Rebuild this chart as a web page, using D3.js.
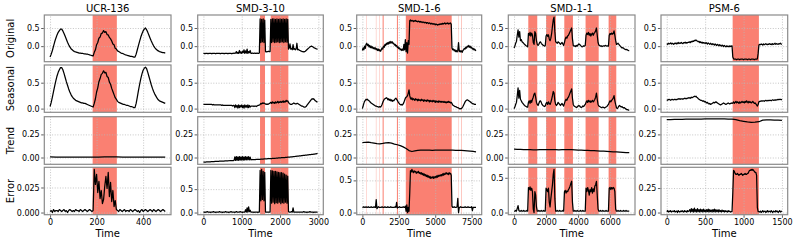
<!DOCTYPE html>
<html>
<head>
<meta charset="utf-8">
<script src="https://cdn.jsdelivr.net/npm/d3@7"></script>
<style>
body { margin: 0; background: #fff; }
svg { font-family: "DejaVu Sans", sans-serif; }
.grid line { stroke: #b8b8b8; stroke-width: 0.8; stroke-dasharray: 1,1.6; }
.grid path { display: none; }
.axis path { display: none; }
.axis line { stroke: #333; stroke-width: 0.8; }
.axis text { font-size: 8px; fill: #000; font-family: "DejaVu Sans", sans-serif; }
.label { font-size: 10px; fill: #000; }
</style>
</head>
<body>
<div id="chart"></div>
<script>
// Data
var datasets = ["UCR-136", "SMD-3-10", "SMD-1-6", "SMD-1-1", "PSM-6"],
	rowNames = ["Original", "Seasonal", "Trend", "Error"],
	seriesLength = [495, 2980, 7800, 7200, 1500],
	anomalyRanges = [
		[[183, 287]],
		[[1478, 1608], [1757, 2217]],
		[[280, 300], [930, 950], [1160, 1180], [1390, 1460], [2370, 2440], [2980, 6130], [6580, 6600], [6790, 6820]],
		[[890, 1450], [2000, 2620], [3140, 3680], [4470, 5290], [5910, 6390]],
		[[858, 1200]]
	],
	xTickValues = [[0, 200, 400], [0, 1000, 2000, 3000], [0, 2500, 5000, 7500], [0, 2000, 4000, 6000], [0, 500, 1000, 1500]],
	yTickValues = [[0, 0.5], [0, 0.5], [0, 0.25]],
	errorTickValues = [[0, 0.025], [0, 0.5], [0, 0.5], [0, 0.5], [0, 0.25]];

// UCR-136 (step 5)
var ucrOriginal = [-0.30,-0.22,-0.12,0.00,0.12,0.22,0.31,0.38,0.43,0.47,
	0.47,0.42,0.35,0.27,0.19,0.11,0.04,-0.02,-0.07,-0.10,
	-0.13,-0.15,-0.16,-0.17,-0.18,-0.19,-0.19,-0.20,-0.20,-0.21,
	-0.21,-0.22,-0.22,-0.23,-0.24,-0.25,-0.26,-0.27,-0.17,-0.10,
	0.04,0.10,0.22,0.25,0.35,0.36,0.43,0.38,0.40,0.32,
	0.31,0.24,0.20,0.14,0.06,0.04,-0.06,-0.08,-0.13,-0.15,
	-0.17,-0.19,-0.20,-0.21,-0.23,-0.24,-0.25,-0.26,-0.27,-0.28,
	-0.28,-0.29,-0.30,-0.30,-0.22,-0.10,0.02,0.14,0.25,0.34,
	0.42,0.47,0.50,0.45,0.38,0.30,0.22,0.14,0.07,0.01,
	-0.04,-0.08,-0.11,-0.13,-0.15,-0.16,-0.17,-0.18,-0.18,-0.19];
var ucrSeasonal = [0.04,0.12,0.22,0.33,0.44,0.54,0.63,0.70,0.75,0.79,
	0.79,0.75,0.68,0.60,0.52,0.45,0.38,0.32,0.27,0.23,
	0.20,0.18,0.16,0.15,0.14,0.13,0.12,0.11,0.11,0.10,
	0.10,0.09,0.08,0.07,0.06,0.05,0.04,0.03,0.10,0.19,
	0.32,0.40,0.52,0.58,0.66,0.68,0.73,0.69,0.70,0.62,
	0.60,0.51,0.47,0.39,0.33,0.27,0.21,0.18,0.14,0.12,
	0.11,0.10,0.09,0.08,0.08,0.07,0.06,0.06,0.05,0.04,
	0.04,0.03,0.02,0.02,0.10,0.22,0.35,0.47,0.58,0.67,
	0.74,0.78,0.80,0.77,0.70,0.62,0.54,0.46,0.39,0.33,
	0.28,0.24,0.20,0.17,0.15,0.14,0.13,0.12,0.11,0.10];
var ucrTrend = [0.006,0.005,0.005,0.004,0.004,0.003,0.003,0.004,0.005,0.007,
	0.008,0.007,0.005,0.004,0.004,0.003,0.003,0.004,0.004,0.003];
var ucrError = [0.001,0.002,0.000,0.003,0.001,0.002,0.002,0.001,0.003,0.002,
	0.001,0.002,0.003,0.001,0.002,0.000,0.002,0.003,0.002,0.001,
	0.002,0.001,0.003,0.002,0.002,0.001,0.003,0.002,0.001,0.002,
	0.003,0.002,0.001,0.002,0.003,0.002,0.001,0.002,
	0.043,0.028,0.038,0.020,0.031,0.014,0.022,0.009,0.013,0.026,
	0.036,0.024,0.040,0.016,0.030,0.011,0.022,0.006,0.012,0.003,
	0.002,0.001,0.003,0.002,0.001,0.002,0.003,0.001,0.002,0.002,
	0.001,0.003,0.002,0.001,0.002,0.003,0.002,0.001,0.002,0.000,
	0.002,0.003,0.001,0.002,0.003,0.002,0.001,0.002,0.003,0.002,
	0.001,0.003,0.002,0.001,0.002,0.003,0.002,0.001,0.002,0.003,
	0.002,0.001];

// SMD-3-10 (step 20)
var smd310Original = [-0.20,-0.20,-0.21,-0.20,-0.20,-0.20,-0.21,-0.20,-0.20,-0.20,
	-0.20,-0.21,-0.20,-0.20,-0.20,-0.20,-0.21,-0.20,-0.20,-0.20,
	-0.20,-0.20,-0.21,-0.20,-0.20,-0.20,-0.20,-0.21,-0.20,-0.20,
	-0.20,-0.20,-0.21,-0.20,-0.20,-0.20,-0.20,-0.21,-0.20,-0.20,
	-0.19,-0.20,
	-0.19,-0.15,-0.20,-0.17,-0.20,-0.12,-0.19,-0.16,-0.20,-0.14,-0.18,-0.10,-0.20,-0.13,-0.19,-0.08,-0.20,-0.15,-0.18,-0.12,-0.20,
	-0.20,-0.19,-0.20,-0.20,-0.19,-0.20,-0.20,-0.19,-0.20,-0.20,-0.19,
	0.75,0.10,0.74,0.12,0.75,0.10,0.72,
	-0.15,-0.16,-0.15,-0.15,-0.14,-0.15,-0.15,
	0.74,0.10,0.75,0.12,0.75,0.10,0.74,0.11,0.75,0.12,0.74,0.10,0.75,0.11,0.74,0.12,0.75,0.10,0.74,0.12,0.75,0.11,0.74,
	-0.08,-0.05,0.06,-0.08,-0.06,-0.10,0.04,-0.09,-0.07,-0.10,-0.08,0.08,-0.10,-0.09,-0.11,-0.12,-0.13,-0.14,
	-0.15,-0.15,-0.16,-0.15,-0.14,-0.12,-0.10,-0.08,-0.06,-0.04,-0.02,-0.01,0.00,-0.01,-0.02,-0.04,-0.05,-0.06,-0.07,-0.08,-0.08];
var smd310Seasonal = [0.08,0.08,0.08,0.08,0.08,0.08,0.08,0.08,0.08,0.08,
	0.08,0.08,0.07,0.08,0.07,0.07,0.07,0.07,0.07,0.07,
	0.07,0.07,0.07,0.07,0.06,0.07,0.06,0.06,0.06,0.06,
	0.06,0.06,0.06,0.06,0.06,0.06,0.06,0.06,0.05,0.06,
	0.06,0.02,0.07,0.03,0.06,0.01,0.07,0.02,0.06,0.03,0.07,0.02,0.06,0.01,0.07,0.03,0.06,0.02,0.07,0.02,0.06,0.03,0.05,
	0.05,0.05,0.05,0.04,0.05,0.05,0.04,0.05,0.06,0.06,0.07,
	0.08,0.10,0.09,0.11,0.10,0.11,0.10,
	0.09,0.08,0.09,0.08,0.09,0.10,0.11,
	0.12,0.10,0.13,0.11,0.12,0.10,0.13,0.11,0.12,0.14,0.11,0.13,0.12,0.14,0.12,0.13,0.15,0.12,0.14,0.13,0.16,0.14,0.15,
	0.12,0.10,0.09,0.08,0.08,0.09,0.10,0.11,0.10,0.09,0.09,0.10,0.10,0.09,0.08,0.07,0.06,0.05,
	0.05,0.04,0.03,0.03,0.03,0.04,0.06,0.08,0.10,0.12,0.14,0.16,0.18,0.19,0.18,0.19,0.17,0.15,0.14,0.13,0.13];
var smd310Trend = [-0.050,-0.050,-0.049,-0.049,-0.048,-0.048,-0.047,-0.047,-0.046,-0.046,
	-0.045,-0.045,-0.044,-0.044,-0.044,-0.043,-0.043,-0.042,-0.042,-0.041,
	-0.041,-0.040,-0.040,-0.040,-0.039,-0.039,-0.038,-0.038,-0.037,-0.037,
	-0.037,-0.036,-0.036,-0.035,-0.035,-0.034,-0.034,-0.034,-0.033,-0.033,
	-0.032,0.008,-0.031,0.010,-0.030,0.006,-0.030,0.010,-0.029,0.007,-0.028,0.010,-0.028,0.006,-0.027,0.009,-0.026,0.008,-0.026,0.010,-0.025,0.005,-0.025,
	-0.024,-0.024,-0.023,-0.023,-0.022,-0.022,-0.021,-0.021,-0.020,-0.020,-0.019,
	-0.019,-0.018,-0.018,-0.017,-0.017,-0.016,-0.016,
	-0.015,-0.015,-0.014,-0.013,-0.013,-0.012,-0.012,
	-0.011,-0.011,-0.010,-0.010,-0.009,-0.008,-0.008,-0.007,-0.006,-0.006,-0.005,-0.004,-0.004,-0.003,-0.002,-0.002,-0.001,0.000,0.000,0.001,0.002,0.002,0.003,
	0.004,0.005,0.005,0.006,0.007,0.008,0.009,0.010,0.011,0.012,0.013,0.014,0.015,0.016,0.017,0.018,0.019,0.020,
	0.021,0.022,0.023,0.024,0.025,0.026,0.027,0.028,0.029,0.030,0.031,0.032,0.033,0.034,0.035,0.036,0.037,0.039,0.040,0.042,0.044];
var smd310Error = [0.01,0.01,0.00,0.01,0.01,0.02,0.01,0.01,0.01,0.00,
	0.01,0.01,0.01,0.02,0.01,0.01,0.00,0.01,0.01,0.01,
	0.01,0.02,0.01,0.01,0.01,0.00,0.01,0.01,0.01,0.02,
	0.01,0.01,0.01,0.00,0.01,0.01,0.02,0.01,0.01,0.01,
	0.01,0.00,0.01,0.02,0.01,0.01,0.01,0.01,0.02,0.01,
	0.01,0.00,0.01,0.01,
	0.01,0.06,0.01,0.10,0.01,0.12,0.02,0.05,0.01,
	0.01,0.01,0.01,0.00,0.01,0.01,0.01,0.01,0.00,0.01,0.01,
	0.90,0.25,0.92,0.28,0.88,0.25,0.86,
	0.01,0.01,0.01,0.01,0.01,0.01,0.01,
	0.90,0.20,0.89,0.22,0.88,0.19,0.88,0.21,0.87,0.20,0.86,0.22,0.85,0.19,0.85,0.21,0.84,0.20,0.82,0.22,0.80,0.20,0.78,
	0.02,0.01,0.01,0.01,0.02,0.01,0.10,0.01,0.01,0.01,0.01,0.01,0.01,0.01,0.01,0.01,0.01,0.01,
	0.01,0.01,0.02,0.01,0.01,0.01,0.00,0.01,0.01,0.01,0.02,0.01,0.01,0.01,0.01,0.00,0.01,0.01,0.01,0.01,0.01];

// SMD-1-6 (step 50)
var smd16Original = [-0.12,-0.05,-0.10,0.00,-0.06,0.05,
	0.08,0.02,0.05,-0.02,0.02,-0.04,0.00,-0.05,-0.02,-0.07,-0.04,-0.08,
	-0.05,-0.10,-0.07,-0.12,-0.08,-0.13,-0.10,-0.14,
	-0.10,-0.05,-0.08,0.00,-0.03,0.05,0.02,0.08,0.05,
	0.10,0.06,0.12,0.08,0.13,0.09,0.12,0.07,
	0.08,0.03,0.05,0.00,0.02,-0.04,-0.02,-0.07,-0.05,-0.10,-0.08,-0.12,
	-0.08,-0.12,0.05,-0.10,0.18,-0.15,0.10,-0.19,0.15,0.05,
	0.70,0.72,0.69,0.71,0.70,0.68,0.70,0.69,0.71,0.68,
	0.69,0.67,0.69,0.68,0.66,0.68,0.67,0.65,0.67,0.66,
	0.64,0.66,0.65,0.63,0.65,0.64,0.62,0.64,0.63,0.61,
	0.63,0.62,0.60,0.62,0.61,0.59,0.61,0.60,0.58,0.60,
	0.59,0.61,0.60,0.62,0.60,0.63,0.61,0.62,0.64,0.61,
	0.63,0.62,0.64,0.61,0.63,0.62,0.64,0.60,
	-0.05,-0.10,-0.08,-0.13,-0.10,-0.15,-0.12,-0.16,-0.12,0.10,-0.15,-0.12,-0.16,-0.13,-0.17,-0.12,
	-0.10,-0.06,-0.08,-0.03,-0.05,0.00,-0.02,0.02,-0.03,0.00,-0.05,-0.03,-0.08,-0.06,-0.10,-0.08,-0.12,-0.10];
var smd16Seasonal = [0.00,0.05,0.10,0.14,0.16,0.18,
	0.17,0.18,0.16,0.15,0.14,0.12,0.11,0.10,0.09,0.08,0.07,0.06,
	0.05,0.05,0.04,0.04,0.03,0.03,0.04,0.03,
	0.05,0.08,0.12,0.15,0.18,0.19,0.20,0.21,0.20,
	0.17,0.19,0.16,0.18,0.15,0.17,0.14,0.16,
	0.15,0.17,0.19,0.20,0.18,0.16,0.13,0.11,0.09,0.08,0.07,0.08,
	0.07,0.09,0.12,0.16,0.20,0.22,0.23,0.25,0.30,0.36,
	0.25,0.20,0.18,0.21,0.17,0.19,0.18,0.16,0.19,0.17,
	0.18,0.15,0.18,0.16,0.17,0.15,0.18,0.16,0.17,0.14,
	0.17,0.15,0.16,0.14,0.17,0.15,0.16,0.13,0.16,0.14,
	0.15,0.13,0.16,0.14,0.15,0.12,0.15,0.13,0.14,0.12,
	0.15,0.13,0.14,0.12,0.14,0.13,0.12,0.14,0.12,0.13,
	0.11,0.13,0.12,0.14,0.12,0.13,0.11,0.12,
	0.10,0.07,0.06,0.05,0.04,0.04,0.03,0.02,0.02,0.01,0.00,-0.01,0.00,0.00,0.02,0.04,
	0.07,0.10,0.13,0.15,0.16,0.17,0.16,0.15,0.14,0.13,0.12,0.11,0.10,0.09,0.09,0.08,0.08,0.08];
var smd16Trend = [0.160,0.165,0.167,0.160,0.155,0.150,0.148,0.152,0.158,0.160,
	0.155,0.145,0.138,0.128,0.115,0.098,0.075,0.065,0.072,0.078,
	0.080,0.079,0.081,0.080,0.078,0.080,0.081,0.079,0.080,0.081,
	0.080,0.079,0.078,0.078,0.077,0.075,0.073,0.070,0.066,0.062];
var smd16Error = [0.08,0.08,0.09,0.08,0.08,0.09,
	0.08,0.08,0.09,0.08,0.08,0.08,0.09,0.08,0.08,0.08,0.09,0.08,
	0.08,0.20,0.06,0.08,0.09,0.08,0.08,0.08,
	0.08,0.09,0.08,0.08,0.08,0.09,0.08,0.08,0.08,
	0.09,0.08,0.08,0.08,0.09,0.08,0.08,0.08,
	0.08,0.08,0.09,0.08,0.16,0.07,0.08,0.08,0.09,0.08,0.08,0.08,
	0.08,0.09,0.08,0.08,0.10,0.02,0.12,0.00,0.08,0.02,
	0.30,0.65,0.63,0.67,0.64,0.62,0.65,0.63,0.64,0.61,
	0.63,0.62,0.64,0.61,0.62,0.60,0.62,0.59,0.61,0.58,
	0.60,0.57,0.59,0.56,0.58,0.55,0.57,0.54,0.56,0.53,
	0.55,0.54,0.56,0.53,0.55,0.56,0.54,0.57,0.55,0.58,
	0.56,0.58,0.57,0.59,0.57,0.60,0.58,0.61,0.59,0.60,
	0.62,0.60,0.61,0.59,0.62,0.60,0.61,0.58,
	0.10,0.08,0.08,0.09,0.08,0.08,0.08,0.09,0.22,0.00,0.08,0.08,0.09,0.08,0.08,0.08,
	0.08,0.08,0.09,0.08,0.08,0.08,0.09,0.08,0.08,0.08,0.08,0.09,0.03,0.08,0.08,0.08,0.08,0.08];

// SMD-1-1 (step 50)
var smd11Original = [-0.05,0.00,0.08,0.13,0.30,0.45,0.25,0.40,0.15,0.18,0.12,0.10,0.08,0.05,0.03,0.01,0.00,-0.02,
	0.35,0.30,0.38,0.28,0.36,0.30,0.10,0.05,0.40,0.35,0.15,0.05,
	0.02,0.05,0.10,0.12,0.08,0.05,0.03,0.02,0.00,0.01,
	0.28,0.32,0.27,0.31,0.20,0.15,0.22,0.35,0.55,0.72,0.80,0.40,0.12,
	0.10,0.08,0.12,0.10,0.08,0.05,0.08,0.10,0.06,0.02,
	0.10,0.20,0.25,0.22,0.28,0.30,0.35,0.40,0.45,0.50,0.20,0.02,
	0.00,0.01,-0.01,0.02,0.00,0.04,0.06,0.05,0.02,0.00,-0.02,-0.01,0.01,0.00,0.02,
	0.30,0.36,0.32,0.38,0.30,0.35,0.28,0.33,0.36,0.30,0.35,0.38,0.42,0.50,0.30,0.10,0.03,
	0.02,0.00,0.01,-0.01,0.00,0.01,0.00,0.02,0.01,0.00,0.01,0.00,
	0.30,0.35,0.32,0.36,0.33,0.35,0.42,0.30,0.15,0.05,
	0.06,0.08,0.05,0.02,0.00,-0.03,-0.05,-0.04,-0.06,-0.08,-0.09,-0.10,-0.09,-0.11,-0.12,-0.12];
var smd11Seasonal = [0.00,0.03,0.08,0.12,0.25,0.40,0.20,0.35,0.18,0.15,0.12,0.10,0.08,0.06,0.05,0.04,0.03,0.03,
	0.12,0.15,0.10,0.16,0.12,0.18,0.22,0.28,0.30,0.22,0.12,0.08,
	0.06,0.10,0.14,0.15,0.12,0.08,0.06,0.05,0.04,0.05,
	0.10,0.12,0.08,0.13,0.10,0.08,0.12,0.18,0.25,0.33,0.30,0.15,0.08,
	0.06,0.08,0.12,0.10,0.08,0.06,0.08,0.10,0.07,0.05,
	0.10,0.15,0.18,0.16,0.20,0.22,0.26,0.30,0.34,0.38,0.20,0.08,
	0.05,0.04,0.03,0.02,0.03,0.05,0.06,0.05,0.03,0.02,0.03,0.05,0.04,0.06,0.08,
	0.12,0.15,0.12,0.16,0.13,0.15,0.12,0.14,0.16,0.13,0.15,0.18,0.22,0.30,0.18,0.08,0.05,
	0.04,0.03,0.02,0.02,0.03,0.02,0.01,0.02,0.03,0.04,0.06,0.08,
	0.12,0.15,0.13,0.16,0.18,0.20,0.25,0.15,0.08,0.02,
	0.00,0.02,0.05,0.06,0.04,0.03,0.04,0.02,0.01,0.02,0.00,-0.01,-0.02,-0.02,-0.03,-0.03];
var smd11Trend = [0.090,0.089,0.088,0.086,0.085,0.084,0.083,0.083,0.084,0.085,
	0.086,0.086,0.085,0.084,0.083,0.084,0.085,0.086,0.085,0.083,
	0.081,0.079,0.077,0.076,0.075,0.074,0.072,0.070,0.068,0.066,
	0.064,0.062,0.060,0.058,0.056,0.054,0.052];
var smd11Error = [0.02,0.02,0.03,0.02,0.06,0.10,0.03,0.02,0.02,0.03,0.02,0.02,0.03,0.02,0.02,0.02,0.03,0.02,
	0.36,0.33,0.37,0.32,0.35,0.30,0.05,0.00,0.30,0.25,0.08,0.02,
	0.02,0.03,0.02,0.02,0.03,0.02,0.02,0.03,0.02,0.02,
	0.35,0.33,0.30,0.35,0.15,0.08,0.20,0.30,0.40,0.55,0.62,0.20,0.02,
	0.02,0.03,0.02,0.02,0.03,0.02,0.02,0.02,0.03,0.02,
	0.30,0.32,0.28,0.31,0.30,0.33,0.35,0.38,0.42,0.45,0.15,0.02,
	0.02,0.03,0.02,0.02,0.03,0.02,0.02,0.02,0.03,0.02,0.02,0.03,0.02,0.02,0.02,
	0.35,0.30,0.36,0.32,0.25,0.33,0.30,0.36,0.28,0.34,0.30,0.38,0.40,0.45,0.25,0.05,0.02,
	0.02,0.03,0.02,0.02,0.03,0.02,0.02,0.02,0.03,0.02,0.02,0.02,
	0.35,0.36,0.33,0.36,0.34,0.36,0.35,0.30,0.05,0.02,
	0.02,0.03,0.02,0.02,0.03,0.02,0.02,0.02,0.03,0.02,0.02,0.03,0.02,0.02,0.02,0.02];

// PSM-6 (step 10)
var psm6Original = [0.07,0.05,0.08,0.06,0.07,0.09,0.06,0.08,0.07,0.05,
	0.08,0.07,0.09,0.06,0.08,0.10,0.07,0.09,0.08,0.10,
	0.08,0.07,0.10,0.09,0.11,0.08,0.10,0.09,0.11,0.10,
	0.12,0.10,0.13,0.12,0.14,0.13,0.16,0.15,0.17,0.15,0.14,0.12,0.13,0.10,0.12,0.09,
	0.11,0.08,0.10,0.09,0.07,0.10,0.08,0.06,0.09,0.07,
	0.05,0.08,0.06,0.04,0.07,0.05,0.03,0.06,0.04,0.02,
	0.05,0.03,0.01,0.04,0.02,0.00,0.03,0.01,-0.01,0.02,
	0.00,-0.02,0.01,-0.01,0.00,-0.02,0.01,-0.01,0.00,0.01,
	-0.30,-0.35,-0.36,-0.36,-0.36,-0.37,-0.36,-0.36,-0.36,-0.37,
	-0.36,-0.36,-0.36,-0.36,-0.37,-0.36,-0.36,-0.36,-0.36,-0.37,
	-0.36,-0.36,-0.36,-0.37,-0.36,-0.36,-0.36,-0.36,-0.37,-0.36,
	-0.36,-0.36,-0.35,-0.20,
	0.03,0.05,0.04,0.06,0.05,0.03,0.06,0.04,0.05,0.07,
	0.05,0.04,0.06,0.05,0.07,0.05,0.06,0.04,0.07,0.05,
	0.06,0.08,0.05,0.07,0.06,0.05,0.07,0.06,0.08,0.06,0.05];
var psm6Seasonal = [0.17,0.16,0.17,0.18,0.17,0.16,0.17,0.18,0.17,0.17,
	0.18,0.17,0.18,0.17,0.18,0.19,0.18,0.19,0.18,0.19,
	0.19,0.18,0.19,0.20,0.19,0.20,0.19,0.20,0.21,0.20,
	0.21,0.20,0.22,0.21,0.22,0.23,0.24,0.23,0.24,0.22,0.21,0.19,0.18,0.17,0.16,0.16,
	0.15,0.14,0.15,0.13,0.14,0.12,0.11,0.12,0.10,0.09,
	0.10,0.08,0.09,0.10,0.11,0.12,0.11,0.12,0.13,0.12,
	0.11,0.10,0.09,0.08,0.07,0.08,0.09,0.10,0.11,0.10,
	0.09,0.08,0.09,0.10,0.11,0.10,0.09,0.10,0.11,0.10,
	0.11,0.13,0.10,0.12,0.14,0.11,0.13,0.12,0.10,0.13,
	0.11,0.12,0.14,0.12,0.13,0.11,0.14,0.12,0.15,0.13,
	0.11,0.14,0.12,0.13,0.11,0.12,0.14,0.12,0.10,0.11,
	0.09,0.07,0.05,0.08,
	0.13,0.14,0.14,0.15,0.14,0.15,0.15,0.14,0.15,0.16,
	0.15,0.15,0.16,0.15,0.16,0.16,0.15,0.16,0.17,0.16,
	0.16,0.17,0.16,0.17,0.17,0.18,0.17,0.18,0.18,0.17,0.18];
var psm6Trend = [0.410,0.411,0.412,0.412,0.413,0.414,0.414,0.415,0.416,0.416,
	0.417,0.417,0.417,0.418,0.417,0.417,0.416,0.414,0.410,0.398,
	0.392,0.385,0.380,0.382,0.387,0.405,0.406,0.406,0.405,0.404,0.403];
var psm6Error = [0.010,0.020,0.005,0.015,0.010,0.020,0.005,0.010,0.015,0.010,
	0.020,0.005,0.010,0.015,0.000,0.020,0.010,0.005,0.015,0.010,
	0.020,0.010,0.005,0.020,0.010,0.015,0.005,0.020,0.010,0.015,
	0.030,0.005,0.040,0.010,0.035,0.005,0.045,0.010,0.030,0.005,0.040,0.010,0.030,0.005,0.035,0.010,
	0.030,0.005,0.035,0.010,0.025,0.005,0.030,0.010,0.035,0.005,
	0.030,0.010,0.025,0.005,0.030,0.010,0.035,0.005,0.030,0.010,
	0.025,0.005,0.030,0.010,0.020,0.005,0.025,0.010,0.020,0.005,
	0.020,0.010,0.015,0.005,0.020,0.010,0.015,0.005,0.010,0.010,
	0.20,0.43,0.42,0.40,0.39,0.39,0.40,0.39,0.38,0.39,
	0.39,0.40,0.39,0.38,0.39,0.39,0.40,0.39,0.39,0.40,
	0.40,0.42,0.43,0.43,0.44,0.43,0.44,0.43,0.42,0.41,
	0.41,0.38,0.05,0.01,
	0.010,0.005,0.015,0.000,0.010,0.020,0.005,0.010,0.015,0.000,
	0.010,0.020,0.005,0.015,0.010,0.005,0.020,0.010,0.000,0.015,
	0.010,0.005,0.020,0.010,0.015,0.000,0.010,0.020,0.005,0.010,0.015];

var table = [
	[ucrOriginal, smd310Original, smd16Original, smd11Original, psm6Original],
	[ucrSeasonal, smd310Seasonal, smd16Seasonal, smd11Seasonal, psm6Seasonal],
	[ucrTrend, smd310Trend, smd16Trend, smd11Trend, psm6Trend],
	[ucrError, smd310Error, smd16Error, smd11Error, psm6Error]
];

// Layout
var width = 797,
	height = 243,
	colLeft = [44.3, 197.7, 356.7, 508.3, 661],
	colRight = [171, 323.3, 481.7, 635, 787.7],
	rowTop = [15, 65, 116.7, 167.3],
	rowBottom = [61.7, 112.3, 164.3, 214.7],
	svg = d3.select("#chart")
	.append("svg")
	.attr("width", width)
	.attr("height", height);

// matplotlib style 5% margins
function padded(values) {
	var ext = d3.extent(values), r = ext[1] - ext[0];
	return [ext[0] - 0.05 * r, ext[1] + 0.05 * r];
}
function decimals(ticks) {
	return d3.max(ticks, function(t) { return (String(t).split(".")[1] || "").length; }) || 1;
}

var rowDomains = table.map(function(row) { return padded(d3.merge(row)); });

table.forEach(function(row, r) {
	row.forEach(function(values, c) {
		var n = seriesLength[c],
			w = colRight[c] - colLeft[c],
			h = rowBottom[r] - rowTop[r],
			step = n / (values.length - 1),
			x = d3.scaleLinear().domain([-0.05 * n, 1.05 * n]).range([colLeft[c], colRight[c]]),
			y = d3.scaleLinear().domain(r < 3 ? rowDomains[r] : padded(values)).range([rowBottom[r], rowTop[r]]),
			yt = r < 3 ? yTickValues[r] : errorTickValues[c],
			g = svg.append("g");

		// anomaly spans
		g.selectAll("rect.span")
			.data(anomalyRanges[c])
			.enter()
			.append("rect")
			.attr("class", "span")
			.attr("x", function(d) { return x(d[0]); })
			.attr("width", function(d) { return x(d[1]) - x(d[0]); })
			.attr("y", rowTop[r])
			.attr("height", h)
			.attr("fill", "#fa8072");

		// grid
		g.append("g")
			.attr("class", "grid")
			.attr("transform", "translate(0," + rowBottom[r] + ")")
			.call(d3.axisBottom(x).tickValues(xTickValues[c]).tickSize(-h).tickFormat(""));
		g.append("g")
			.attr("class", "grid")
			.attr("transform", "translate(" + colLeft[c] + ",0)")
			.call(d3.axisLeft(y).tickValues(yt).tickSize(-w).tickFormat(""));

		// series
		g.append("path")
			.datum(values)
			.attr("d", d3.line().x(function(d, i) { return x(i * step); }).y(function(d) { return y(d); }))
			.attr("fill", "none")
			.attr("stroke", "#000")
			.attr("stroke-width", 1.25)
			.attr("stroke-linejoin", "round");

		// frame
		g.append("rect")
			.attr("x", colLeft[c])
			.attr("y", rowTop[r])
			.attr("width", w)
			.attr("height", h)
			.attr("fill", "none")
			.attr("stroke", "#8a8a8a")
			.attr("stroke-width", 1.2);

		// axes
		g.append("g")
			.attr("class", "axis")
			.attr("transform", "translate(" + (colLeft[c] - 0.6) + ",0)")
			.call(d3.axisLeft(y).tickValues(yt).tickSize(2.5).tickPadding(1.5)
				.tickFormat(d3.format("." + decimals(yt) + "f")));

		if (r === 3) {
			g.append("g")
				.attr("class", "axis")
				.attr("transform", "translate(0," + (rowBottom[r] + 0.6) + ")")
				.call(d3.axisBottom(x).tickValues(xTickValues[c]).tickSize(2.5).tickPadding(2)
					.tickFormat(d3.format("d")));
			g.append("text")
				.attr("class", "label")
				.attr("x", (colLeft[c] + colRight[c]) / 2)
				.attr("y", 237)
				.attr("text-anchor", "middle")
				.text("Time");
		}
		if (r === 0) {
			g.append("text")
				.attr("class", "label")
				.attr("x", (colLeft[c] + colRight[c]) / 2)
				.attr("y", 11.5)
				.attr("text-anchor", "middle")
				.text(datasets[c]);
		}
		if (c === 0) {
			g.append("text")
				.attr("class", "label")
				.attr("transform", "translate(13.5," + ((rowTop[r] + rowBottom[r]) / 2) + ") rotate(-90)")
				.attr("text-anchor", "middle")
				.text(rowNames[r]);
		}
	});
});
</script>
</body>
</html>
